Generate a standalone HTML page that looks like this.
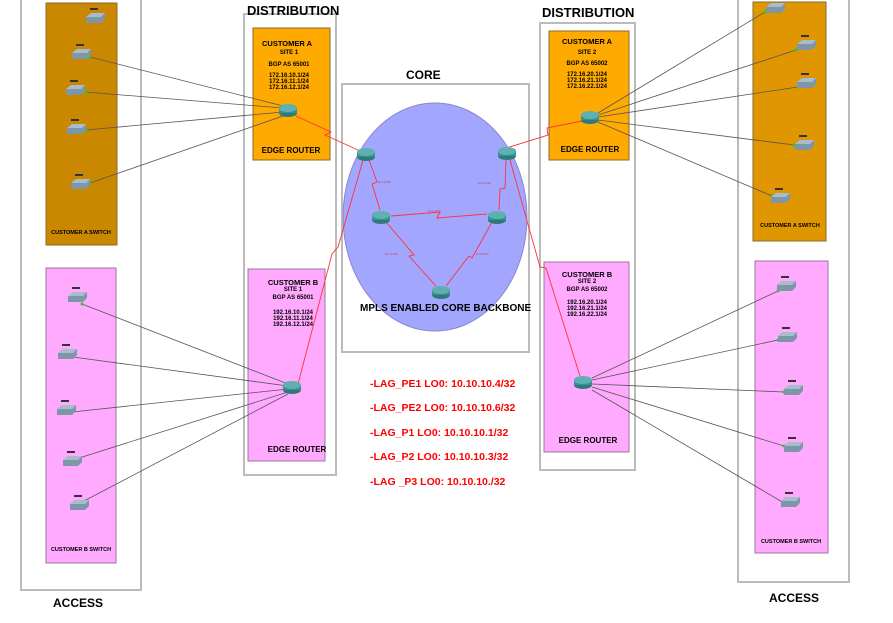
<!DOCTYPE html>
<html><head><meta charset="utf-8"><style>
html,body{margin:0;padding:0;background:#fff;}
svg{display:block;font-family:"Liberation Sans",sans-serif;}
.c{fill:none;stroke:#bbb;stroke-width:2}
.t{font-weight:bold;fill:#000}
.g{stroke:#555;stroke-width:0.8;fill:none}
.r{stroke:#f33;stroke-width:0.9;fill:none}
</style></head><body>
<svg width="893" height="623" viewBox="0 0 893 623" xmlns="http://www.w3.org/2000/svg">
<defs>
<g id="rt"><ellipse cx="0" cy="3" rx="9" ry="4" fill="#2e7a7a"/><rect x="-9" y="-2" width="18" height="5" fill="#3c8f8f"/><ellipse cx="0" cy="-2" rx="9" ry="4" fill="#5fb0b0"/></g>
<g id="sw"><polygon points="-9,-2 -4,-6 10,-6 10,0 6,4 -9,4" fill="#7f95a8"/><polygon points="-9,-2 -4,-6 10,-6 6,-2" fill="#a9bccb"/><rect x="-5" y="-11" width="8" height="2" fill="#333"/></g>
</defs>
<!-- containers -->
<rect class="c" x="21" y="-2" width="120" height="592"/>
<rect class="c" x="244" y="14" width="92" height="461"/>
<rect class="c" x="342" y="84" width="187" height="268"/>
<rect class="c" x="540" y="23" width="95" height="447"/>
<rect class="c" x="738" y="-2" width="111" height="584"/>
<!-- colored boxes -->
<rect x="46" y="3" width="71" height="242" fill="#c98800" stroke="#8a6a2a"/>
<rect x="46" y="268" width="70" height="295" fill="#ffaaff" stroke="#997799"/>
<rect x="253" y="28" width="77" height="132" fill="#ffaa00" stroke="#8a6a2a"/>
<rect x="248" y="269" width="77" height="192" fill="#ffaaff" stroke="#997799"/>
<rect x="549" y="31" width="80" height="129" fill="#ffaa00" stroke="#8a6a2a"/>
<rect x="544" y="262" width="85" height="190" fill="#ffaaff" stroke="#997799"/>
<rect x="753" y="2" width="73" height="239" fill="#e09600" stroke="#8a6a2a"/>
<rect x="755" y="261" width="73" height="292" fill="#ffaaff" stroke="#997799"/>
<ellipse cx="435" cy="217" rx="92" ry="114" fill="#a3a6ff" stroke="#8888cc"/>
<!-- headings -->
<text class="t" x="247" y="15" font-size="13">DISTRIBUTION</text>
<text class="t" x="542" y="17" font-size="13">DISTRIBUTION</text>
<text class="t" x="406" y="79" font-size="12">CORE</text>
<text class="t" x="53" y="607" font-size="12">ACCESS</text>
<text class="t" x="769" y="602" font-size="12">ACCESS</text>
<text class="t" x="360" y="311" font-size="10">MPLS ENABLED CORE BACKBONE</text>
<!-- box texts -->
<g class="t" font-size="6" text-anchor="middle">
<text x="287" y="46" font-size="7.5">CUSTOMER A</text><text x="289" y="54">SITE 1</text><text x="289" y="66">BGP AS 65001</text>
<text x="289" y="77">172.16.10.1/24</text><text x="289" y="83">172.16.11.1/24</text><text x="289" y="89">172.16.12.1/24</text>
<text x="291" y="153" font-size="8">EDGE ROUTER</text>
<text x="293" y="285" font-size="7.5">CUSTOMER B</text><text x="293" y="291">SITE 1</text><text x="293" y="299">BGP AS 65001</text>
<text x="293" y="314">192.16.10.1/24</text><text x="293" y="320">192.16.11.1/24</text><text x="293" y="326">192.16.12.1/24</text>
<text x="297" y="452" font-size="8">EDGE ROUTER</text>
<text x="587" y="44" font-size="7.5">CUSTOMER A</text><text x="587" y="54">SITE 2</text><text x="587" y="65">BGP AS 65002</text>
<text x="587" y="76">172.16.20.1/24</text><text x="587" y="82">172.16.21.1/24</text><text x="587" y="88">172.16.22.1/24</text>
<text x="590" y="152" font-size="8">EDGE ROUTER</text>
<text x="587" y="277" font-size="7.5">CUSTOMER B</text><text x="587" y="283">SITE 2</text><text x="587" y="291">BGP AS 65002</text>
<text x="587" y="304">192.16.20.1/24</text><text x="587" y="310">192.16.21.1/24</text><text x="587" y="316">192.16.22.1/24</text>
<text x="588" y="443" font-size="8">EDGE ROUTER</text>
<text x="81" y="234" font-size="5.5">CUSTOMER A SWITCH</text>
<text x="81" y="551" font-size="5.5">CUSTOMER B SWITCH</text>
<text x="790" y="227" font-size="5.5">CUSTOMER A SWITCH</text>
<text x="791" y="543" font-size="5.5">CUSTOMER B SWITCH</text>
</g>
<!-- gray links -->
<g class="g">
<path d="M90,57 L283,106 M85,92 L283,108 M86,130 L283,112 M90,183 L283,116"/>
<path d="M82,304 L288,384 M73,357 L288,386 M72,412 L288,389 M76,459 L288,392 M84,501 L288,394"/>
<path d="M765,12 L598,113 M796,50 L598,115 M798,87 L598,117 M794,145 L598,120 M772,196 L598,122"/>
<path d="M778,291 L592,378 M778,340 L592,380 M784,392 L592,384 M784,446 L592,387 M784,503 L592,390"/>
</g>
<g fill="#2c2">
<circle cx="90" cy="57" r="1.5"/><circle cx="86" cy="92" r="1.5"/><circle cx="86" cy="130" r="1.5"/><circle cx="90" cy="183" r="1.5"/>
<circle cx="82" cy="304" r="1.5"/><circle cx="73" cy="357" r="1.5"/><circle cx="72" cy="412" r="1.5"/><circle cx="76" cy="459" r="1.5"/><circle cx="84" cy="501" r="1.5"/>
<circle cx="765" cy="12" r="1.5"/><circle cx="796" cy="50" r="1.5"/><circle cx="798" cy="87" r="1.5"/><circle cx="794" cy="145" r="1.5"/><circle cx="772" cy="196" r="1.5"/>
<circle cx="778" cy="291" r="1.5"/><circle cx="778" cy="340" r="1.5"/><circle cx="784" cy="392" r="1.5"/><circle cx="784" cy="446" r="1.5"/><circle cx="784" cy="503" r="1.5"/>
</g>
<!-- red links -->
<g class="r">
<path d="M296,116 L331,132 L325,135 L358,150"/>
<path d="M363,160 L338,247 L332,254 L298,384"/>
<path d="M369,160 L377,182 L372,184 L380,210"/>
<path d="M391,216 L440,212 L437,218 L487,214"/>
<path d="M386,222 L414,255 L409,256 L436,286"/>
<path d="M446,286 L469,256 L472,258 L492,222"/>
<path d="M506,160 L505,188 L500,189 L499,210"/>
<path d="M500,150 L548,135 L547,128 L582,121"/>
<path d="M510,160 L540,267 L546,268 L580,376"/>
</g>
<g fill="#c33" font-size="2.5"><text x="378" y="183">10.1.1.0/30</text><text x="478" y="184">10.1.2.0/30</text><text x="428" y="212">10.1.3.0/30</text><text x="385" y="255">10.1.4.0/30</text><text x="476" y="255">10.1.5.0/30</text></g>
<!-- routers -->
<use href="#rt" x="288" y="110"/><use href="#rt" x="292" y="387"/><use href="#rt" x="590" y="117"/><use href="#rt" x="583" y="382"/>
<use href="#rt" x="366" y="154"/><use href="#rt" x="507" y="153"/><use href="#rt" x="381" y="217"/><use href="#rt" x="497" y="217"/><use href="#rt" x="441" y="292"/>
<!-- switches -->
<use href="#sw" x="95" y="19"/><use href="#sw" x="81" y="55"/><use href="#sw" x="75" y="91"/><use href="#sw" x="76" y="130"/><use href="#sw" x="80" y="185"/>
<use href="#sw" x="77" y="298"/><use href="#sw" x="67" y="355"/><use href="#sw" x="66" y="411"/><use href="#sw" x="72" y="462"/><use href="#sw" x="79" y="506"/>
<use href="#sw" x="775" y="9"/><use href="#sw" x="806" y="46"/><use href="#sw" x="806" y="84"/><use href="#sw" x="804" y="146"/><use href="#sw" x="780" y="199"/>
<use href="#sw" x="786" y="287"/><use href="#sw" x="787" y="338"/><use href="#sw" x="793" y="391"/><use href="#sw" x="793" y="448"/><use href="#sw" x="790" y="503"/>
<!-- LAG list -->
<g fill="#f00" font-weight="bold" font-size="10.5">
<text x="370" y="387">-LAG_PE1 LO0: 10.10.10.4/32</text>
<text x="370" y="411">-LAG_PE2 LO0: 10.10.10.6/32</text>
<text x="370" y="436">-LAG_P1 LO0: 10.10.10.1/32</text>
<text x="370" y="460">-LAG_P2 LO0: 10.10.10.3/32</text>
<text x="370" y="485">-LAG _P3 LO0: 10.10.10./32</text>
</g>
</svg>
</body></html>
